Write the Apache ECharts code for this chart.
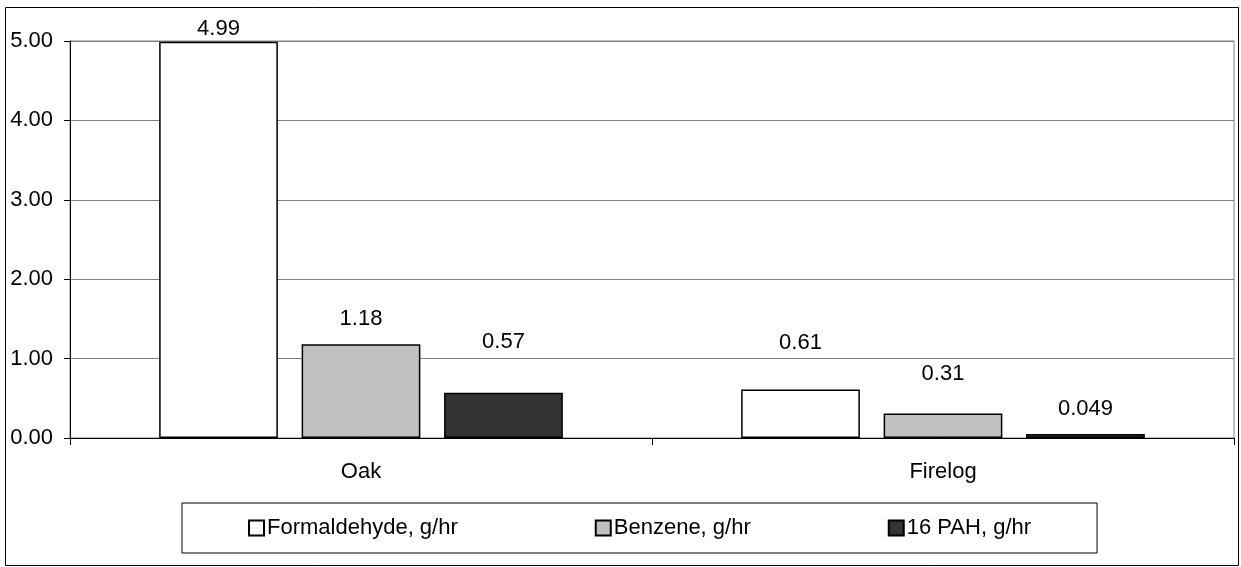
<!DOCTYPE html>
<html>
<head>
<meta charset="utf-8">
<script src="https://cdn.jsdelivr.net/npm/echarts@6/dist/echarts.min.js"></script>
<style>
html,body{margin:0;padding:0;background:#fff;}
#chart{width:1241px;height:567px;}
</style>
</head>
<body>
<div id="chart"></div>
<script>
const categories = ['Oak', 'Firelog'];
const seriesNames = ['Formaldehyde, g/hr', 'Benzene, g/hr', '16 PAH, g/hr'];
const formaldehyde = [4.99, 0.61];
const benzene = [1.18, 0.31];
const pah = [0.57, 0.049];
const valueLabels = [['4.99', '0.61'], ['1.18', '0.31'], ['0.57', '0.049']];
const yTicks = [0, 1, 2, 3, 4, 5];

// label distances above each bar (style only)
const labelDistances = [[2, 36], [14, 28], [40, 14]];
const colors = ['#ffffff', '#c0c0c0', '#333333'];
const FONT = 'Liberation Sans, Arial, sans-serif';

const seriesValues = [formaldehyde, benzene, pah];

const chart = echarts.init(document.getElementById('chart'), null, {renderer: 'canvas'});
const option = {
  animation: false,
  backgroundColor: '#ffffff',
  graphic: [{
    type: 'rect',
    shape: {x: 5.5, y: 7.5, width: 1233, height: 558},
    style: {fill: 'none', stroke: '#000', lineWidth: 1},
    silent: true, z: 100
  }],
  grid: {
    left: 70, right: 7, top: 41, bottom: 129,
    show: true, borderColor: '#808080', borderWidth: 1, backgroundColor: 'transparent'
  },
  legend: {
    left: 182, top: 503,
    padding: [14, 66],
    itemGap: 137,
    itemWidth: 15, itemHeight: 15,
    borderColor: '#000', borderWidth: 1,
    icon: 'rect',
    textStyle: {fontFamily: FONT, fontSize: 22, color: '#000', padding: [0, 0, 0, -2]},
    data: seriesNames
  },
  xAxis: {
    type: 'category',
    data: categories,
    axisLine: {show: true, lineStyle: {color: '#000', width: 1}},
    axisTick: {show: true, length: 7, lineStyle: {color: '#000'}},
    axisLabel: {fontFamily: FONT, fontSize: 22, color: '#000', margin: 23},
    splitLine: {show: false}
  },
  yAxis: {
    type: 'value',
    min: yTicks[0], max: yTicks[yTicks.length - 1], interval: 1,
    axisLine: {show: true, lineStyle: {color: '#000', width: 1}},
    axisTick: {show: true, length: 6, lineStyle: {color: '#000'}},
    axisLabel: {fontFamily: FONT, fontSize: 22, color: '#000', margin: 17,
      formatter: v => v.toFixed(2)},
    splitLine: {show: true, lineStyle: {color: '#808080', width: 1}}
  },
  series: seriesNames.map((name, i) => ({
    name: name,
    type: 'bar',
    barWidth: '20.4%',
    barGap: '20%',
    itemStyle: {color: colors[i], borderColor: '#000', borderWidth: 1.5},
    data: seriesValues[i].map((v, j) => ({
      value: v,
      label: {
        show: true, position: 'top', distance: labelDistances[i][j],
        formatter: () => valueLabels[i][j],
        fontFamily: FONT, fontSize: 22, color: '#000'
      }
    }))
  }))
};
chart.setOption(option);
</script>
</body>
</html>
